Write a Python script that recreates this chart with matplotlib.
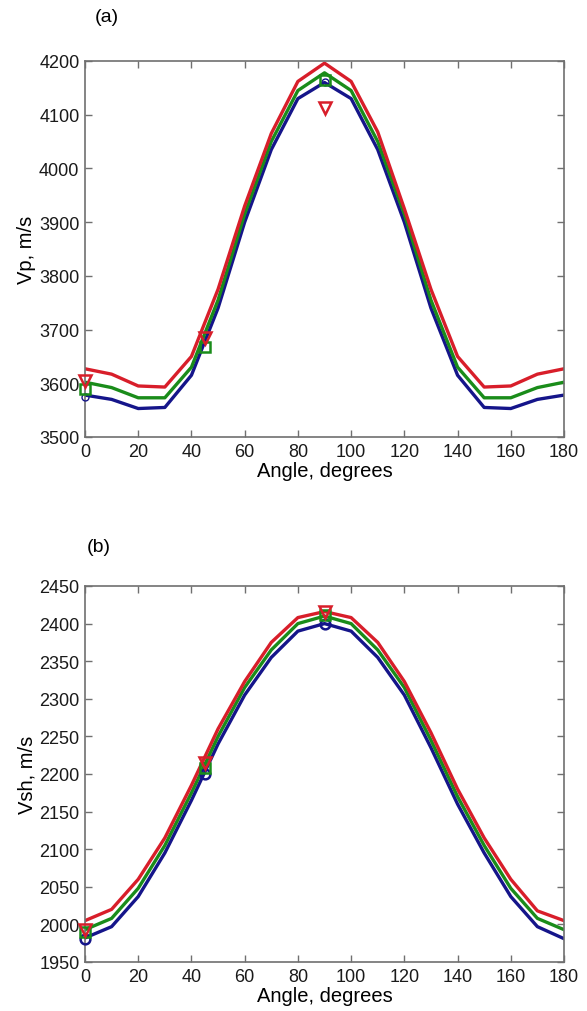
import matplotlib
matplotlib.use("Agg")
import matplotlib.pyplot as plt

plt.rcParams['font.family'] = ['Liberation Sans', 'DejaVu Sans']

angles = [0, 10, 20, 30, 40, 50, 60, 70, 80, 90, 100, 110, 120, 130, 140, 150, 160, 170, 180]

vp_blue = [3578, 3570, 3553, 3555, 3615, 3740, 3900, 4035, 4130, 4160, 4130, 4035, 3900, 3740, 3615, 3555, 3553, 3570, 3578]
vp_green = [3602, 3592, 3573, 3573, 3630, 3755, 3915, 4050, 4145, 4178, 4145, 4050, 3915, 3755, 3630, 3573, 3573, 3592, 3602]
vp_red = [3627, 3617, 3595, 3593, 3650, 3775, 3930, 4065, 4162, 4196, 4162, 4068, 3925, 3775, 3650, 3593, 3595, 3617, 3627]

vsh_blue = [1982, 1997, 2037, 2095, 2165, 2240, 2305, 2355, 2390, 2400, 2390, 2355, 2305, 2235, 2160, 2095, 2037, 1997, 1981]
vsh_green = [1993, 2008, 2048, 2105, 2175, 2250, 2315, 2365, 2400, 2410, 2400, 2365, 2315, 2245, 2170, 2105, 2048, 2008, 1993]
vsh_red = [2005, 2020, 2060, 2115, 2185, 2260, 2323, 2375, 2408, 2416, 2408, 2375, 2323, 2255, 2180, 2115, 2060, 2018, 2005]

meas_angles = [0, 45, 90]
vp_meas_blue = [3575, None, 4160]
vp_meas_green = [3590, 3668, 4165]
vp_meas_red = [3605, 3685, 4112]

vsh_meas_blue = [1980, 2200, 2400]
vsh_meas_green = [1990, 2208, 2412]
vsh_meas_red = [1993, 2215, 2415]

xticks = [0, 20, 40, 60, 80, 100, 120, 140, 160, 180]

BLUE = '#15158a'
GREEN = '#1a8c1a'
RED = '#d81e2a'

W, H = 587, 1012
fig = plt.figure(figsize=(W / 100, H / 100), dpi=100)
L, R = 85, 564
ax1 = fig.add_axes([L / W, 1 - 438 / H, (R - L) / W, (438 - 62) / H])
ax2 = fig.add_axes([L / W, 1 - 963 / H, (R - L) / W, (963 - 587) / H])


def style(ax):
    for s in ax.spines.values():
        s.set_color('#707070')
        s.set_linewidth(1.2)
    ax.tick_params(direction='in', length=5, width=1, colors='#707070',
                   labelcolor='#1a1a1a', labelsize=13, pad=4,
                   top=True, right=True, labeltop=False, labelright=False)
    ax.set_xlim(0, 180)
    ax.set_xticks(xticks)


def meas(ax, vals, marker, color, size, mew=1.8):
    xs = [a for a, v in zip(meas_angles, vals) if v is not None]
    ys = [v for v in vals if v is not None]
    ax.plot(xs, ys, linestyle='none', marker=marker, mfc='none', mec=color,
            ms=size, mew=mew, zorder=5, clip_on=False)


lw = 2.4
for ax, b, g, r in [(ax1, vp_blue, vp_green, vp_red), (ax2, vsh_blue, vsh_green, vsh_red)]:
    ax.plot(angles, b, color=BLUE, lw=lw)
    ax.plot(angles, g, color=GREEN, lw=lw)
    ax.plot(angles, r, color=RED, lw=lw)
    style(ax)

meas(ax1, vp_meas_blue, 'o', BLUE, 5, 1.0)
meas(ax1, vp_meas_green, 's', GREEN, 7)
meas(ax1, vp_meas_red, 'v', RED, 9)

meas(ax2, vsh_meas_blue, 'o', BLUE, 7)
meas(ax2, vsh_meas_green, 's', GREEN, 7)
meas(ax2, vsh_meas_red, 'v', RED, 9)

ax1.set_ylim(3500, 4200)
ax1.set_yticks(range(3500, 4201, 100))
ax2.set_ylim(1950, 2450)
ax2.set_yticks(range(1950, 2451, 50))

ax1.set_ylabel('Vp, m/s', fontsize=14.5, labelpad=2)
ax2.set_ylabel('Vsh, m/s', fontsize=14.5, labelpad=2)
ax1.set_xlabel('Angle, degrees', fontsize=14.5, labelpad=1)
ax2.set_xlabel('Angle, degrees', fontsize=14.5, labelpad=1)

fig.text(95 / W, 1 - 18 / H, '(a)', fontsize=14, va='center', ha='left')
fig.text(87 / W, 1 - 548 / H, '(b)', fontsize=14, va='center', ha='left')

fig.savefig('out.png', dpi=100)
